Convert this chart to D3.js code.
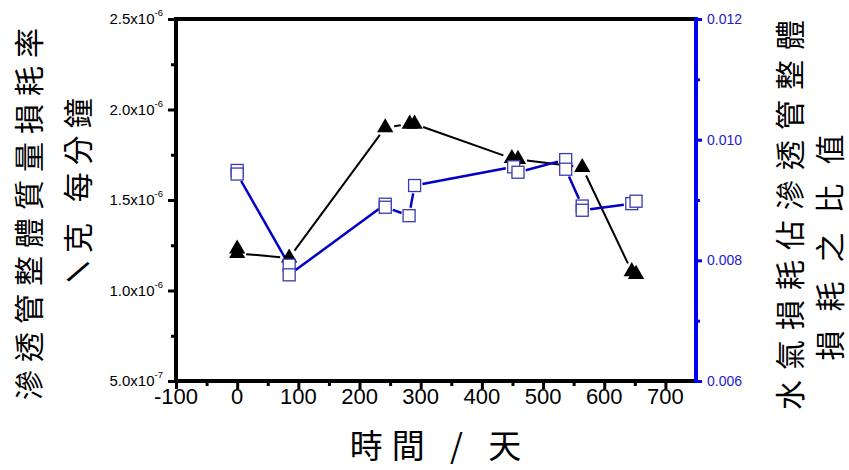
<!DOCTYPE html>
<html>
<head>
<meta charset="utf-8">
<script src="https://cdn.jsdelivr.net/npm/d3@7"></script>
<style>
  body { margin: 0; background: #fff; }
  svg { display: block; }
</style>
</head>
<body>
<svg id="chart" width="849" height="470"></svg>
<script>
// Permeation tube: total mass loss rate (g/min) over time
const lossDays = [0, 0, 85, 242, 282, 290, 449, 459, 564, 645, 652];
const lossRate = [1.23e-6, 1.205e-6, 1.18e-6, 1.90e-6, 1.92e-6, 1.92e-6, 1.73e-6, 1.725e-6, 1.68e-6, 1.105e-6, 1.09e-6];

// Ratio of water-vapour loss to total tube loss
const ratioDays = [0, 0, 85, 85, 242, 242, 281, 290, 452, 459, 537, 537, 564, 564, 645, 652];
const ratioValue = [0.00949, 0.00943, 0.00792, 0.00776, 0.00893, 0.00888, 0.00874, 0.00924,
                    0.00955, 0.00946, 0.00967, 0.00951, 0.00890, 0.00883, 0.00894, 0.00898];

// Axis ticks
const xMajor = [-100, 0, 100, 200, 300, 400, 500, 600, 700];
const xMinor = [-50, 50, 150, 250, 350, 450, 550, 650];
const yLeftMajor = [5e-7, 1e-6, 1.5e-6, 2e-6, 2.5e-6];
const yLeftMinor = [7.5e-7, 1.25e-6, 1.75e-6, 2.25e-6];
const yRightMajor = [0.006, 0.008, 0.010, 0.012];
const yRightMinor = [0.007, 0.009, 0.011];

// Titles
const xTitle = "時間 / 天";
const yLeftTitle1 = "滲透管整體質量損耗率";
const yLeftTitle2a = "/";
const yLeftTitle2b = "克 每分鐘";
const yRightTitle1 = "水氣損耗佔滲透管整體";
const yRightTitle2 = "損耗之比值";

const svg = d3.select("#chart");
const L = 176, R = 696, T = 19, B = 381;
const latin = "'Liberation Sans', Arial, sans-serif";
const cjk = "'Noto Sans CJK TC', 'Noto Sans CJK SC', sans-serif";
const axisBlue = "#0000f0";

const x = d3.scaleLinear().domain([-100, 750]).range([L, R]);
const yL = d3.scaleLinear().domain([5e-7, 2.5e-6]).range([B, T]);
const yR = d3.scaleLinear().domain([0.006, 0.012]).range([B, T]);

function styleAxis(g, color) {
  g.select(".domain").remove();
  g.selectAll(".tick line").attr("stroke", color).attr("stroke-width", 3);
  g.selectAll(".tick text").remove();
}

// Bottom axis ticks
svg.append("g").attr("transform", `translate(0,${B})`)
  .call(d3.axisBottom(x).tickValues(xMajor).tickSize(8).tickSizeOuter(0))
  .call(g => styleAxis(g, "#000"));
svg.append("g").attr("transform", `translate(0,${B})`)
  .call(d3.axisBottom(x).tickValues(xMinor).tickSize(5).tickSizeOuter(0))
  .call(g => styleAxis(g, "#000"));

// Left axis ticks
svg.append("g").attr("transform", `translate(${L},0)`)
  .call(d3.axisLeft(yL).tickValues(yLeftMajor).tickSize(8).tickSizeOuter(0))
  .call(g => styleAxis(g, "#000"));
svg.append("g").attr("transform", `translate(${L},0)`)
  .call(d3.axisLeft(yL).tickValues(yLeftMinor).tickSize(5).tickSizeOuter(0))
  .call(g => styleAxis(g, "#000"));

// Right axis ticks
svg.append("g").attr("transform", `translate(${R},0)`)
  .call(d3.axisRight(yR).tickValues(yRightMajor).tickSize(6).tickSizeOuter(0))
  .call(g => styleAxis(g, axisBlue));
svg.append("g").attr("transform", `translate(${R},0)`)
  .call(d3.axisRight(yR).tickValues(yRightMinor).tickSize(4).tickSizeOuter(0))
  .call(g => styleAxis(g, axisBlue));

// Frame lines
svg.append("line").attr("x1", L - 2).attr("x2", R).attr("y1", T).attr("y2", T)
  .attr("stroke", "#000").attr("stroke-width", 4);
svg.append("line").attr("x1", L - 2).attr("x2", R).attr("y1", B).attr("y2", B)
  .attr("stroke", "#000").attr("stroke-width", 4);
svg.append("line").attr("x1", L).attr("x2", L).attr("y1", T - 2).attr("y2", B + 2)
  .attr("stroke", "#000").attr("stroke-width", 4);
svg.append("line").attr("x1", R).attr("x2", R).attr("y1", T - 2).attr("y2", B + 2)
  .attr("stroke", axisBlue).attr("stroke-width", 4);

// Bottom tick labels
svg.append("g").selectAll("text").data(xMajor).join("text")
  .attr("x", d => x(d)).attr("y", B + 23)
  .attr("text-anchor", "middle")
  .attr("font-family", latin).attr("font-size", 22).attr("fill", "#000")
  .text(d => d);

// Left tick labels in scientific notation
const sci = v => {
  const e = Math.floor(Math.log10(v) + 1e-9);
  return { m: (v / Math.pow(10, e)).toFixed(1), e: String(e) };
};
const leftLab = svg.append("g").selectAll("text").data(yLeftMajor).join("text")
  .attr("x", L - 13).attr("y", d => yL(d) + 5)
  .attr("text-anchor", "end")
  .attr("font-family", latin).attr("font-size", 15).attr("fill", "#000");
leftLab.append("tspan").text(d => sci(d).m + "x10");
leftLab.append("tspan").attr("font-size", 9.5).attr("dy", -8).text(d => sci(d).e);

// Right tick labels
svg.append("g").selectAll("text").data(yRightMajor).join("text")
  .attr("x", R + 11).attr("y", d => yR(d) + 5)
  .attr("font-family", latin).attr("font-size", 14).attr("fill", "#2020d0")
  .text(d => d3.format(".3f")(d));

// Connecting lines that stop short of each marker
function gappedSegments(xs, ys, gap) {
  const pts = xs.map((d, i) => [x(d), ys[i]]);
  const segs = [];
  for (let i = 0; i < pts.length - 1; i++) {
    const [x1, y1] = pts[i], [x2, y2] = pts[i + 1];
    const len = Math.hypot(x2 - x1, y2 - y1);
    if (len <= 2 * gap) continue;
    const ux = (x2 - x1) / len, uy = (y2 - y1) / len;
    segs.push([x1 + ux * gap, y1 + uy * gap, x2 - ux * gap, y2 - uy * gap]);
  }
  return segs;
}

const lossY = lossRate.map(v => yL(v));
const ratioY = ratioValue.map(v => yR(v));

svg.append("g").selectAll("line").data(gappedSegments(lossDays, lossY, 9)).join("line")
  .attr("x1", d => d[0]).attr("y1", d => d[1]).attr("x2", d => d[2]).attr("y2", d => d[3])
  .attr("stroke", "#000").attr("stroke-width", 2);

svg.append("g").selectAll("line").data(gappedSegments(ratioDays, ratioY, 8)).join("line")
  .attr("x1", d => d[0]).attr("y1", d => d[1]).attr("x2", d => d[2]).attr("y2", d => d[3])
  .attr("stroke", "#0000c8").attr("stroke-width", 2.5);

// Triangles: mass loss rate
const tri = d3.symbol().type(d3.symbolTriangle).size(115);
svg.append("g").selectAll("path").data(lossDays).join("path")
  .attr("d", tri)
  .attr("transform", (d, i) => `translate(${x(d)},${lossY[i]})`)
  .attr("fill", "#000");

// Open squares: loss ratio
const sq = 12;
svg.append("g").selectAll("rect").data(ratioDays).join("rect")
  .attr("x", d => x(d) - sq / 2)
  .attr("y", (d, i) => ratioY[i] - sq / 2)
  .attr("width", sq).attr("height", sq)
  .attr("fill", "#fff").attr("stroke", "#3a3ab0").attr("stroke-width", 1.3);

// Axis titles
svg.append("text")
  .attr("x", (L + R) / 2 + 4).attr("y", 458)
  .attr("text-anchor", "middle")
  .attr("font-family", cjk).attr("font-size", 33).attr("letter-spacing", 9)
  .attr("xml:space", "preserve")
  .attr("fill", "#000")
  .text(xTitle);

svg.append("text")
  .attr("transform", "translate(40,210) rotate(-90)")
  .attr("text-anchor", "middle")
  .attr("font-family", cjk).attr("font-size", 30).attr("letter-spacing", 8)
  .attr("fill", "#000")
  .text(yLeftTitle1);

// Second line of the left title: a leaning slash, then the unit running upward
svg.append("text")
  .attr("transform", "translate(78,272) rotate(34)")
  .attr("text-anchor", "middle").attr("dominant-baseline", "central")
  .attr("font-family", latin).attr("font-size", 36)
  .attr("fill", "#000")
  .text(yLeftTitle2a);
svg.append("text")
  .attr("transform", "translate(89,253) rotate(-90)")
  .attr("text-anchor", "start")
  .attr("font-family", cjk).attr("font-size", 30).attr("letter-spacing", 7)
  .attr("xml:space", "preserve")
  .attr("fill", "#000")
  .text(yLeftTitle2b);

svg.append("text")
  .attr("transform", "translate(801,210) rotate(-90)")
  .attr("text-anchor", "middle")
  .attr("font-family", cjk).attr("font-size", 30).attr("letter-spacing", 10)
  .attr("fill", "#000")
  .text(yRightTitle1);

svg.append("text")
  .attr("transform", "translate(841,238) rotate(-90)")
  .attr("text-anchor", "middle")
  .attr("font-family", cjk).attr("font-size", 30).attr("letter-spacing", 19)
  .attr("fill", "#000")
  .text(yRightTitle2);
</script>
</body>
</html>
